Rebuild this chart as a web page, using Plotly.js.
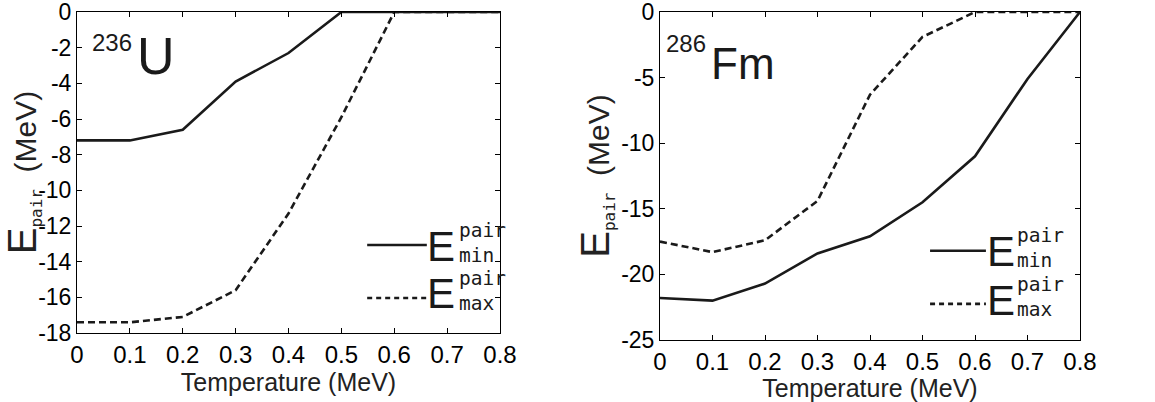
<!DOCTYPE html>
<html>
<head>
<meta charset="utf-8">
<script src="https://cdn.plot.ly/plotly-3.0.1.min.js"></script>
<style>html,body{margin:0;padding:0;background:#fff;}#chart{width:1155px;height:402px;}</style>
</head>
<body>
<div id="chart"></div>
<script>
// ---- data ----
const temperatures = [0, 0.1, 0.2, 0.3, 0.4, 0.5, 0.6, 0.7, 0.8];
const u236Emin = [-7.2, -7.2, -6.6, -3.9, -2.3, 0, 0, 0, 0];
const u236Emax = [-17.4, -17.4, -17.1, -15.6, -11.3, -5.9, 0, 0, 0];
const fm286Emin = [-21.8, -22.0, -20.7, -18.4, -17.1, -14.5, -11.0, -5.1, 0];
const fm286Emax = [-17.5, -18.3, -17.4, -14.4, -6.3, -1.9, 0, 0, 0];

const xTickVals = [0, 0.1, 0.2, 0.3, 0.4, 0.5, 0.6, 0.7, 0.8];
const xTickText = ["0", "0.1", "0.2", "0.3", "0.4", "0.5", "0.6", "0.7", "0.8"];
const uTickVals = [0, -2, -4, -6, -8, -10, -12, -14, -16, -18];
const uTickText = ["0", "-2", "-4", "-6", "-8", "-10", "-12", "-14", "-16", "-18"];
const fmTickVals = [0, -5, -10, -15, -20, -25];
const fmTickText = ["0", "-5", "-10", "-15", "-20", "-25"];

const xTitle = "Temperature (MeV)";
const seriesNames = ["min", "max"];
const nuclides = [{mass: "236", sym: "U"}, {mass: "286", sym: "Fm"}];

// ---- styles ----
const SANS = "Liberation Sans, Arial, sans-serif";
const MONO = "DejaVu Sans Mono, Liberation Mono, monospace";
const INK = "#1a1a1a";
const plotDash = ["solid", "7px,4px"];
const keyDash = ["solid", "5px,4px"];

function line(x, y, xa, ya, k) {
  return {x: x, y: y, xaxis: xa, yaxis: ya, type: "scatter", mode: "lines",
    line: {color: INK, width: 2.6, dash: plotDash[k]}, showlegend: false, hoverinfo: "skip"};
}

const data = [
  line(temperatures, u236Emin, "x", "y", 0),
  line(temperatures, u236Emax, "x", "y", 1),
  line(temperatures, fm286Emin, "x2", "y2", 0),
  line(temperatures, fm286Emax, "x2", "y2", 1)
];

const yTitleText = "<span style='font-size:40px'>E</span><sub><span style='font-family:DejaVu Sans Mono;font-size:16px'>pair</span></sub>\u00A0\u00A0(MeV)";

function xAxis(domain, anchor) {
  return {domain: domain, anchor: anchor, range: [0, 0.8], tickmode: "array",
    tickvals: xTickVals, ticktext: xTickText, ticks: "inside", ticklen: 5, tickwidth: 1,
    tickcolor: "#000", showline: true, linecolor: "#000", linewidth: 1, mirror: "ticks",
    showgrid: false, zeroline: false, ticklabeloverflow: "allow",
    tickfont: {family: SANS, size: 24, color: "#000"},
    title: {text: xTitle, font: {family: SANS, size: 25, color: "#222"}, standoff: 0}};
}
function yAxis(domain, anchor, range, vals, text) {
  return {domain: domain, anchor: anchor, range: range, tickmode: "array",
    tickvals: vals, ticktext: text, ticks: "inside", ticklen: 5, tickwidth: 1,
    tickcolor: "#000", showline: true, linecolor: "#000", linewidth: 1, mirror: "ticks",
    showgrid: false, zeroline: false, ticklabeloverflow: "allow",
    tickfont: {family: SANS, size: 23, color: "#000"},
    title: {text: yTitleText, font: {family: SANS, size: 30, color: "#222"}, standoff: 2}};
}

const panels = [
  {xr: "x", yr: "y", lineX: [0.686, 0.827], lineY: [0.274, 0.109], eX: 0.826, eY: [0.268, 0.124],
   sX: 0.9, sY: [0.279, 0.132], massX: 0.135, massY: 0.905, symX: 0.137, symY: 0.862, symSize: 52},
  {xr: "x2", yr: "y2", lineX: [0.643, 0.776], lineY: [0.272, 0.110], eX: 0.776, eY: [0.271, 0.121],
   sX: 0.848, sY: [0.282, 0.130], massX: 0.114, massY: 0.905, symX: 0.117, symY: 0.843, symSize: 44}
];

const shapes = [];
const annotations = [];
panels.forEach(function (p, i) {
  const xref = p.xr + " domain", yref = p.yr + " domain";
  seriesNames.forEach(function (name, k) {
    shapes.push({type: "line", xref: xref, yref: yref, x0: p.lineX[0], x1: p.lineX[1],
      y0: p.lineY[k], y1: p.lineY[k], line: {color: INK, width: 2.6, dash: keyDash[k]}});
    annotations.push({xref: xref, yref: yref, x: p.eX, y: p.eY[k], xanchor: "left", yanchor: "middle",
      text: "E", showarrow: false, borderpad: 0, font: {family: SANS, size: 42, color: INK}});
    annotations.push({xref: xref, yref: yref, x: p.sX, y: p.sY[k], xanchor: "left", yanchor: "middle",
      text: "pair<br>" + name, showarrow: false, align: "left", borderpad: 0,
      font: {family: MONO, size: 19.5, color: INK}});
  });
  annotations.push({xref: xref, yref: yref, x: p.massX, y: p.massY, xanchor: "right", yanchor: "middle",
    text: nuclides[i].mass, showarrow: false, font: {family: SANS, size: 24, color: INK}});
  annotations.push({xref: xref, yref: yref, x: p.symX, y: p.symY, xanchor: "left", yanchor: "middle",
    text: nuclides[i].sym, showarrow: false, font: {family: SANS, size: p.symSize, color: INK}});
});

const layout = {
  width: 1155, height: 402, margin: {l: 0, r: 0, t: 0, b: 0},
  paper_bgcolor: "#fff", plot_bgcolor: "#fff", showlegend: false,
  xaxis: xAxis([77 / 1155, 500 / 1155], "y"),
  yaxis: yAxis([69 / 402, 390 / 402], "x", [-18, 0], uTickVals, uTickText),
  xaxis2: xAxis([660 / 1155, 1080 / 1155], "y2"),
  yaxis2: yAxis([62 / 402, 390 / 402], "x2", [-25, 0], fmTickVals, fmTickText),
  shapes: shapes,
  annotations: annotations
};

Plotly.newPlot("chart", data, layout, {staticPlot: true, displayModeBar: false});
</script>
</body>
</html>
